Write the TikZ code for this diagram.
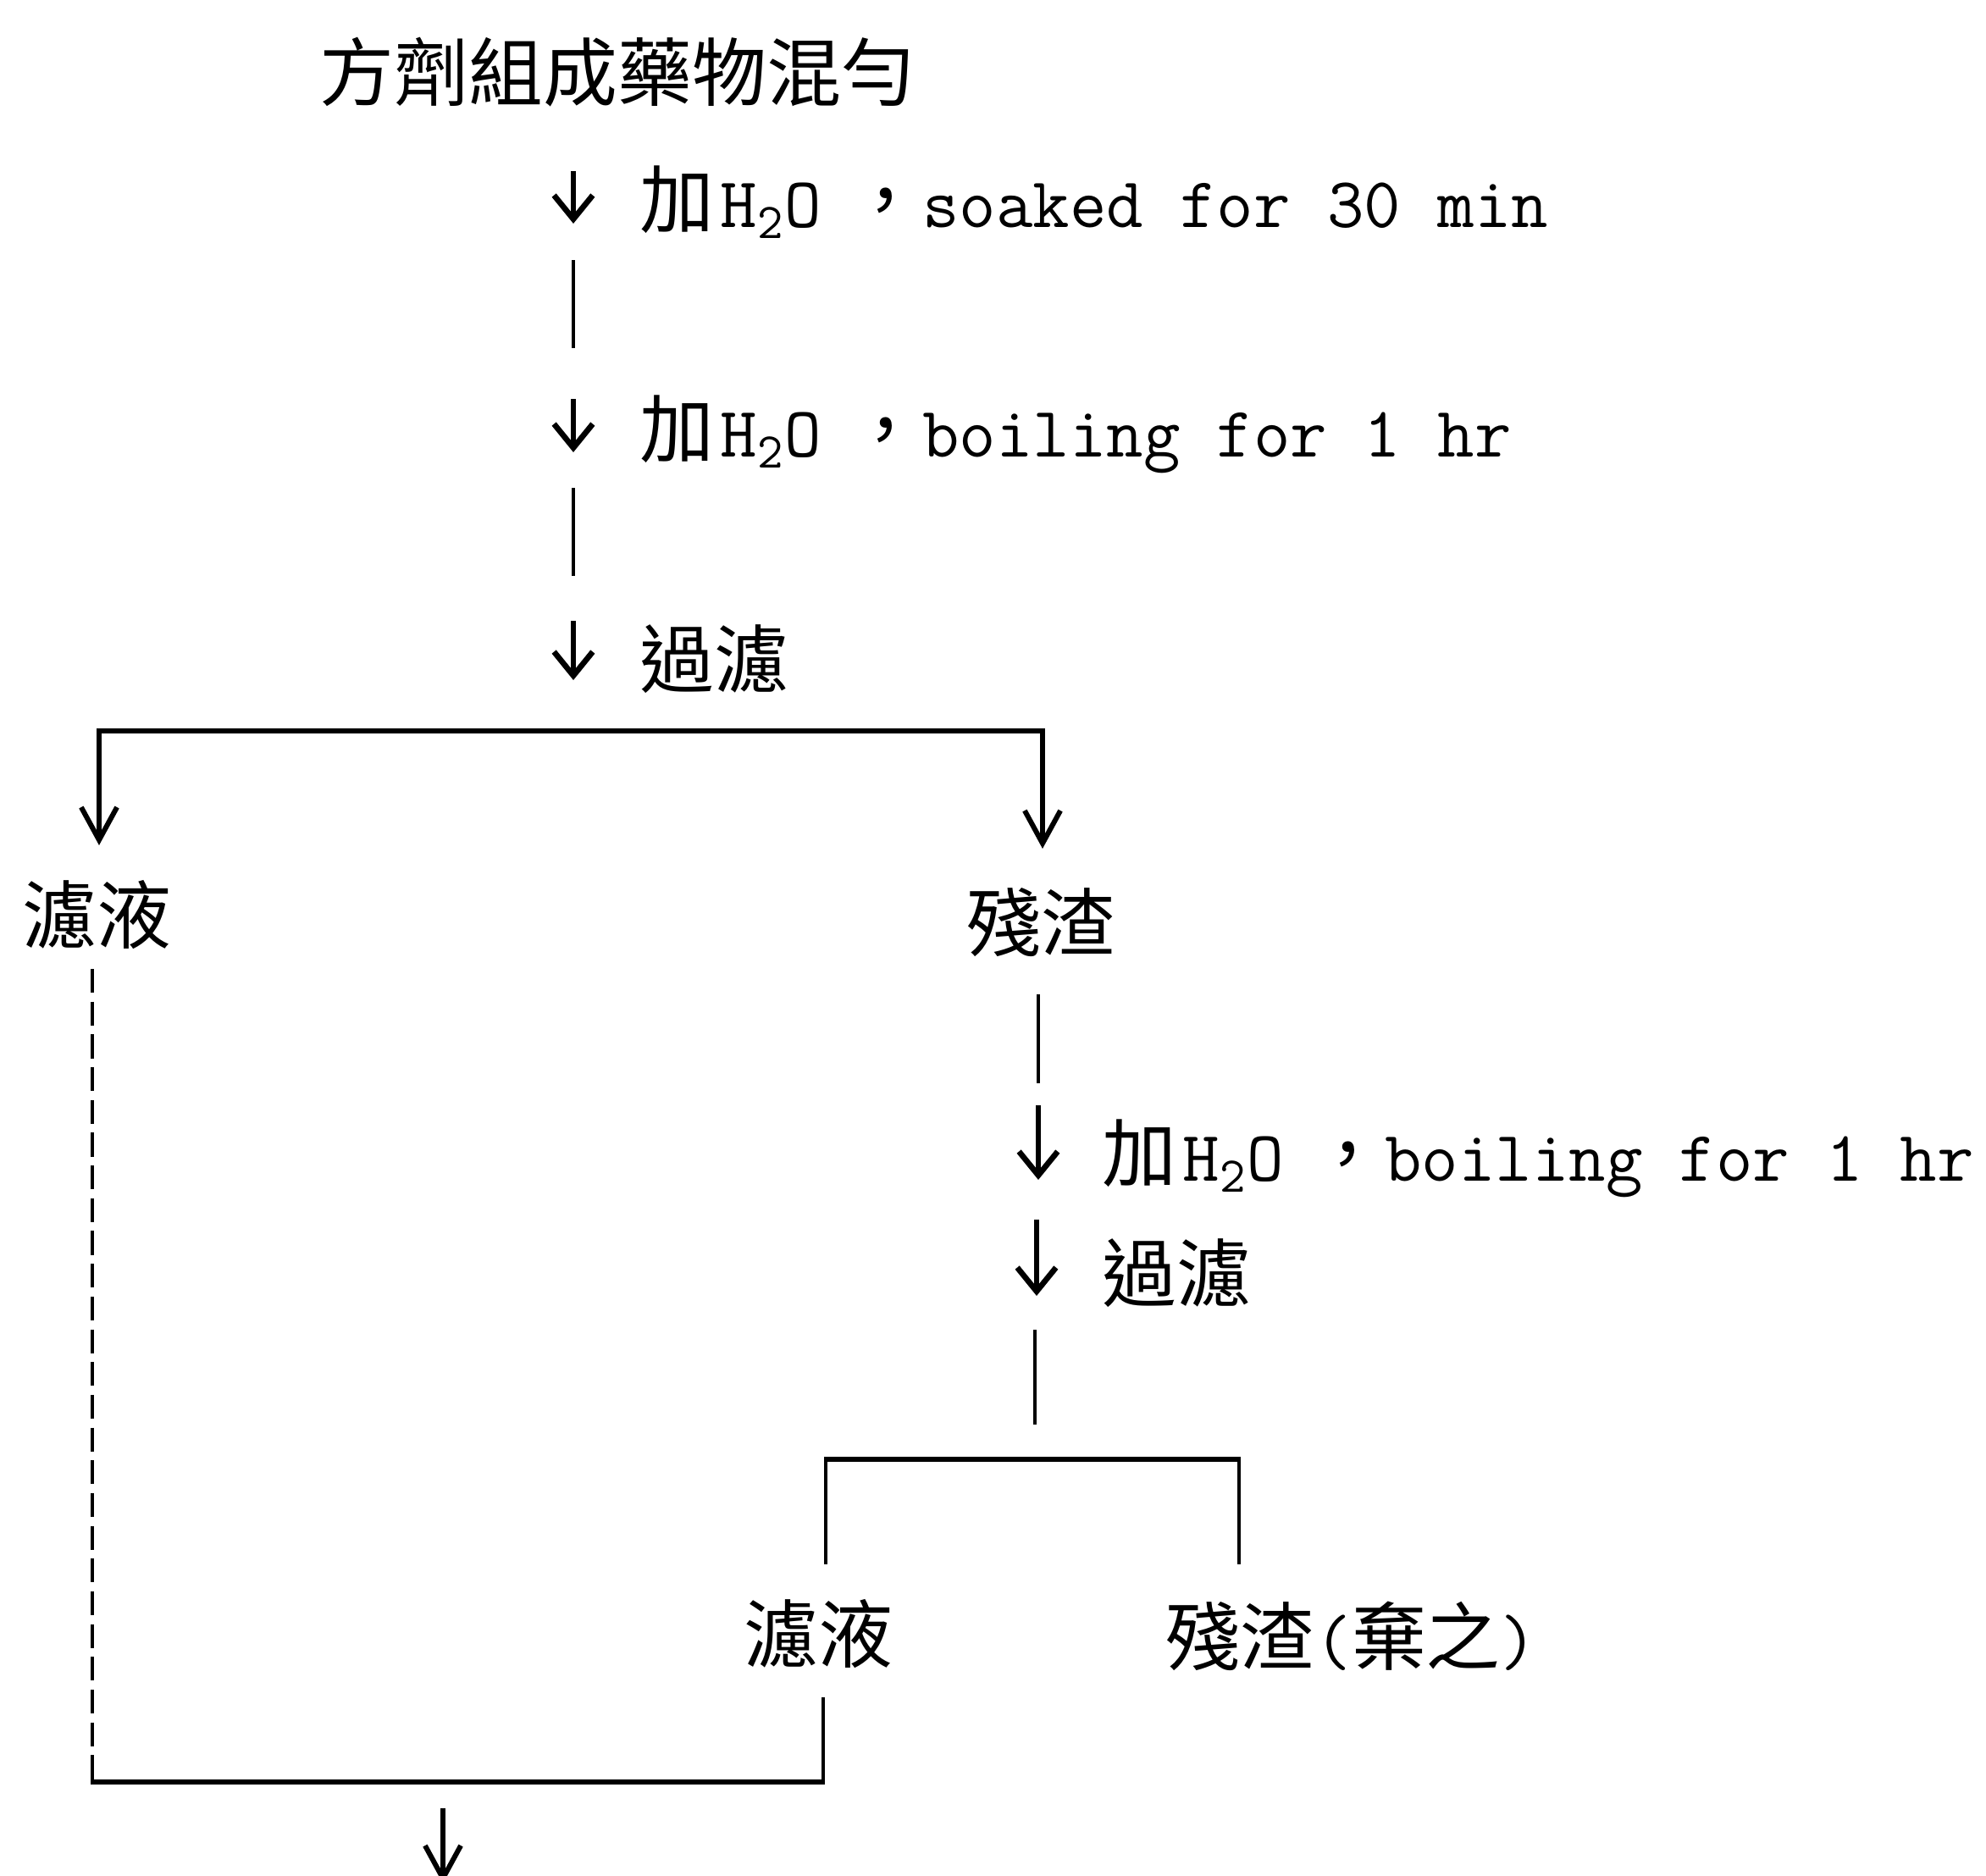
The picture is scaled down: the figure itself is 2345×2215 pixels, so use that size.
\documentclass[tikz,border=0pt]{standalone}
\usepackage{fontspec}
\newfontfamily\cjk{Noto Sans CJK TC}
\usetikzlibrary{arrows.meta}
\newcommand{\mylat}[1]{{\ttfamily\fontsize{24}{28}\selectfont #1}}
\newcommand{\hto}{\hspace{2pt}\mylat{H\textsubscript{2}O}}
\newcommand{\cma}{\hspace{9pt}，}
\begin{document}
\begin{tikzpicture}[x=0.01cm,y=-0.01cm,
  lbl/.style={inner sep=0pt, font=\cjk\fontsize{25}{30}\selectfont},
  vline/.style={line width=1.1pt},
  hline/.style={line width=1.9pt},
  dline/.style={line width=0.9pt, dash pattern=on 8pt off 3pt},
  arr/.style={line width=1.9pt, -{Straight Barb[length=8pt,width=13pt,line width=1.9pt]}},
  barr/.style={line width=1.7pt, -{Straight Barb[length=11pt,width=12pt,line width=1.7pt]}}]
\useasboundingbox (0,0) rectangle (2345,2215);

% text nodes
\node[lbl, anchor=west] (title) at (377,85) {方劑組成藥物混勻};
\node[lbl, anchor=west] (s1) at (755,239) {加\hto\cma\mylat{soaked for 30 min}};
\node[lbl, anchor=west] (s2) at (755,513) {加\hto\cma\mylat{boiling for 1 hr}};
\node[lbl, anchor=west] (s3) at (755,778) {過濾};
\node[lbl] (filtA) at (114,1080) {濾液};
\node[lbl] (resA) at (1229,1089) {殘渣};
\node[lbl, anchor=west] (s4) at (1301,1368) {加\hto\cma\mylat{boiling for 1 hr}};
\node[lbl, anchor=west] (s5) at (1301,1503) {過濾};
\node[lbl] (filtB) at (966,1929) {濾液};
\node[lbl, anchor=west] (resB) at (1376,1932) {殘渣\mylat{(}棄之\mylat{)}};

% main column
\coordinate (c1a) at (677,202); \coordinate (c1b) at (677,264);
\coordinate (c2a) at (677,307); \coordinate (c2b) at (677,411);
\coordinate (c3a) at (677,471); \coordinate (c3b) at (677,534);
\coordinate (c4a) at (677,576); \coordinate (c4b) at (677,680);
\coordinate (c5a) at (677,733); \coordinate (c5b) at (677,803);
\draw[arr] (c1a) -- (c1b);
\draw[vline] (c2a) -- (c2b);
\draw[arr] (c3a) -- (c3b);
\draw[vline] (c4a) -- (c4b);
\draw[arr] (c5a) -- (c5b);

% first split
\coordinate (bl) at (117,863); \coordinate (br) at (1231,863);
\coordinate (blt) at (117,998); \coordinate (brt) at (1231,1002);
\draw[hline] ([xshift=-0.8pt]bl) -- ([xshift=0.8pt]br);
\draw[barr] (bl) -- (blt);
\draw[barr] (br) -- (brt);

% right column
\coordinate (r1a) at (1226,1174); \coordinate (r1b) at (1226,1279);
\coordinate (r2a) at (1226,1305); \coordinate (r2b) at (1226,1393);
\coordinate (r3a) at (1224,1440); \coordinate (r3b) at (1224,1530);
\coordinate (r4a) at (1222,1570); \coordinate (r4b) at (1222,1682);
\draw[vline] (r1a) -- (r1b);
\draw[arr] (r2a) -- (r2b);
\draw[arr] (r3a) -- (r3b);
\draw[vline] (r4a) -- (r4b);

% second split
\coordinate (ql) at (975,1723); \coordinate (qr) at (1463,1723);
\coordinate (qlb) at (975,1847); \coordinate (qrb) at (1463,1847);
\draw[hline] ([xshift=-0.55pt]ql) -- ([xshift=0.55pt]qr);
\draw[vline] (ql) -- (qlb);
\draw[vline] (qr) -- (qrb);

% merge
\coordinate (dtop) at (109,1144); \coordinate (dbot) at (109,2104);
\coordinate (mr) at (972,2104); \coordinate (mrt) at (972,2004);
\draw[dline] (dtop) -- (dbot);
\draw[vline] (mrt) -- (mr);
\draw[hline] ([xshift=-0.45pt]dbot) -- ([xshift=0.55pt]mr);
\coordinate (fa) at (523,2135); \coordinate (fb) at (523,2224);
\draw[barr] (fa) -- (fb);
\end{tikzpicture}
\end{document}
